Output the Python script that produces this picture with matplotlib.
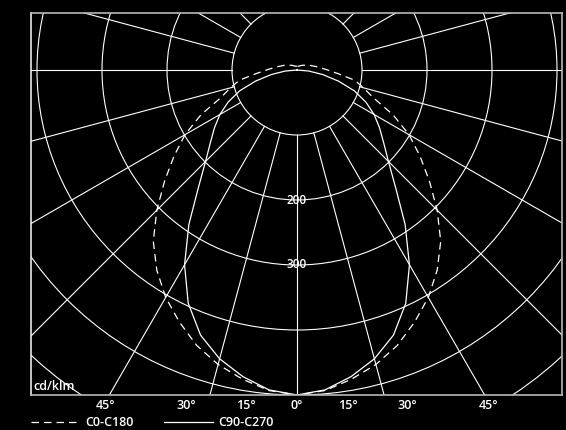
import numpy as np
import matplotlib.pyplot as plt
from matplotlib.patches import Circle

plt.rcParams['font.family'] = ['Open Sans', 'DejaVu Sans']
plt.rcParams['font.weight'] = 'semibold'

# luminous intensity (cd/klm) vs gamma angle (deg), symmetric about nadir
c0_angles = [0, 5, 10, 15, 20, 25, 30, 35, 40, 45, 50, 55, 60, 65, 70, 75,
             80, 85, 90, 95, 100, 110, 120, 135, 150, 165, 180]
c0_c180 = [500, 495, 483, 469, 451, 428, 404, 376, 344, 305, 266, 231, 199,
           163, 125, 106, 90, 63, 47, 37, 30, 21, 15, 10, 7, 6, 6]

c90_angles = [0, 5, 10, 15, 20, 25, 30, 35, 40, 45, 50, 55, 60, 65, 70, 75,
              80, 85, 90]
c90_c270 = [500, 494, 479, 460, 434, 396, 346, 290, 236, 199, 174, 155, 137,
            117, 94, 66, 40, 18, 0]

grid_radii = [100, 200, 300, 400, 500, 600]
ring_labels = [200, 300]
tick_angles = [-45, -30, -15, 0, 15, 30, 45]
tick_labels = ['45°', '30°', '15°', '0°', '15°', '30°', '45°']
legend_labels = ['C0-C180', 'C90-C270']


def polar_xy(angles, values):
    # full curve: mirror the half-plane to the other side
    a = np.radians(np.asarray(angles, float))
    v = np.asarray(values, float)
    a = np.concatenate([-a[::-1], a[1:]])
    v = np.concatenate([v[::-1], v[1:]])
    return v * np.sin(a), -v * np.cos(a)


fig = plt.figure(figsize=(5.66, 4.30), dpi=100, facecolor='black')
ax = fig.add_axes([31 / 566, 35 / 430, 531 / 566, 382 / 430])
ax.set_facecolor('black')

px = 0.65  # pixels per cd/klm
ax.set_xlim((31 - 297) / px, (562 - 297) / px)
ax.set_ylim((70 - 395) / px, (70 - 13) / px)

# polar grid
for r in grid_radii:
    ax.add_patch(Circle((0, 0), r, fill=False, ec='white', lw=0.8))
for a in range(-180, 181, 15):
    t = np.radians(a)
    ax.plot([100 * np.sin(t), 1000 * np.sin(t)],
            [-100 * np.cos(t), -1000 * np.cos(t)], color='white', lw=0.8)

for r in ring_labels:
    ax.text(0, -r, str(r), color='white', fontsize=8.5,
            ha='center', va='center')
ax.text(0.004, 0.004, 'cd/klm', color='white', fontsize=9,
        transform=ax.transAxes, ha='left', va='bottom')

# curves
x0, y0 = polar_xy(c0_angles, c0_c180)
l1, = ax.plot(x0, y0, color='white', lw=0.9, linestyle=(0, (6, 4)))
x1, y1 = polar_xy(c90_angles, c90_c270)
l2, = ax.plot(x1, y1, color='white', lw=0.9)

ax.set_xticks([294 * np.tan(np.radians(a)) for a in tick_angles],
              labels=tick_labels)
ax.set_yticks([])
ax.tick_params(axis='x', length=0, colors='white', labelsize=9, pad=3)
for s in ax.spines.values():
    s.set_color('#b8b8b8')
    s.set_linewidth(1.2)
ax.spines['left'].set_color('#e8e8e8')

ax.legend([l1, l2], legend_labels, loc='upper left',
          bbox_to_anchor=(0, -0.056), ncol=2, frameon=False,
          borderaxespad=0, borderpad=0, handlelength=3.9,
          handletextpad=0.45, columnspacing=2.4, fontsize=9,
          labelcolor='white')

fig.savefig('out.png', dpi=100, facecolor='black')
